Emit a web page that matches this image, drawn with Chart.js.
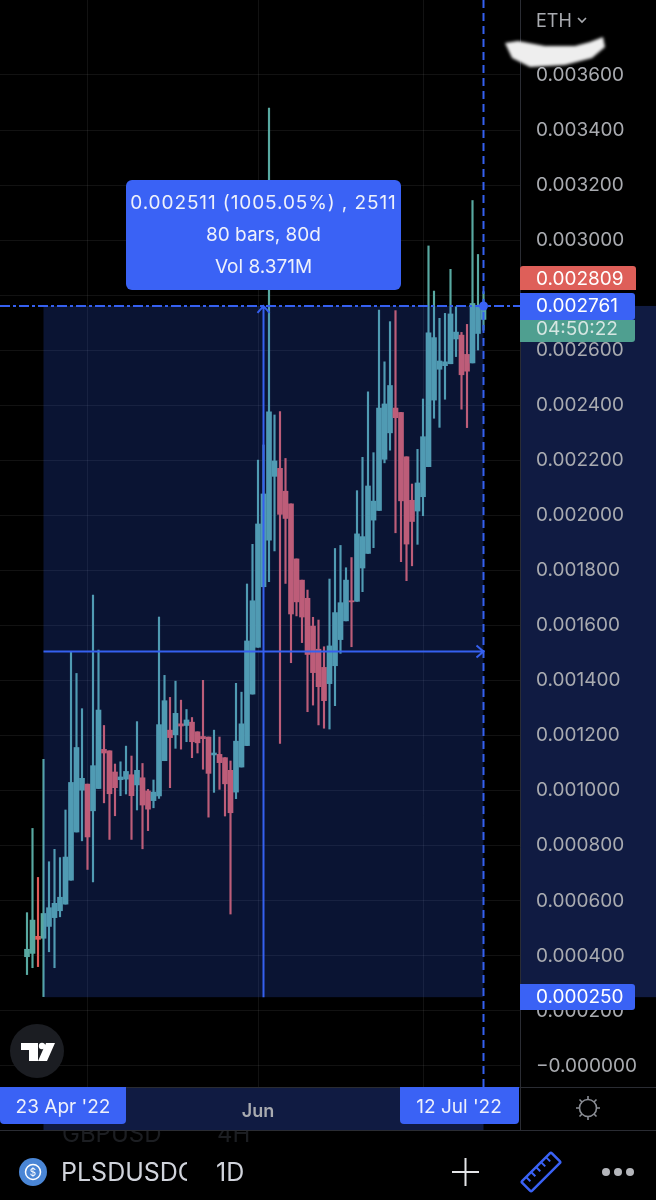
<!DOCTYPE html>
<html>
<head>
<meta charset="utf-8">
<script src="https://cdn.jsdelivr.net/npm/chart.js@4/dist/chart.umd.min.js"></script>
<style>
  html, body { margin: 0; background: #000; }
  #wrap { position: relative; width: 656px; height: 1200px; overflow: hidden; font-family: Inter, sans-serif; }
  canvas { position: absolute; left: 0; top: 0; }
  .bar { position: absolute; white-space: nowrap; }
  #ghost { left: 0; top: 1131px; width: 520px; height: 20px; overflow: hidden; color: #1c1e22; font-size: 24px; }
  #symbol { left: 61px; top: 1156px; width: 126px; overflow: hidden; color: #d1d4dc; font-size: 25px; line-height: 32px; }
  #interval { left: 216px; top: 1156px; color: #d1d4dc; font-size: 25px; line-height: 32px; }
  svg { position: absolute; left: 0; top: 0; }
</style>
</head>
<body>
<div id="wrap">
  <canvas id="myChart" width="656" height="1200"></canvas>
  <div class="bar" id="ghost"><span style="position:absolute;left:62px;top:-12px">GBPUSD</span><span style="position:absolute;left:217px;top:-12px">4H</span></div>
  <div class="bar" id="symbol">PLSDUSDC</div>
  <div class="bar" id="interval">1D</div>
  <svg width="656" height="1200">
    <!-- TradingView badge -->
    <circle cx="37" cy="1051" r="27" fill="#1b1d22"/>
    <path d="M21 1043H38V1061H29V1050H21Z M46 1043H55L47 1061H38Z" fill="#fff"/>
    <circle cx="42" cy="1046" r="3.2" fill="#fff"/>
    <!-- settings sun -->
    <g fill="none" stroke="#8a8d94" stroke-width="1.6">
      <circle cx="588" cy="1108" r="8.5"/>
      <path d="M588 1096v3.5M588 1116.5v3.5M576 1108h3.5M596.500 1108h3.500M579.500 1099.500l2.500 2.500M594 1114l2.500 2.500M596.500 1099.500l-2.500 2.500M582 1114l-2.500 2.500"/>
    </g>
    <!-- coin -->
    <circle cx="33" cy="1172" r="14" fill="#4a86d6"/>
    <circle cx="33" cy="1172" r="7.500" fill="none" stroke="#fff" stroke-width="1.5"/>
    <text x="33" y="1176" font-size="10" fill="#fff" text-anchor="middle" font-family="Inter">$</text>
    <!-- plus -->
    <path d="M452 1172h27M465.500 1158v28" stroke="#e4e5e8" stroke-width="2"/>
    <!-- ruler -->
    <g transform="rotate(-45 541 1172)" fill="none" stroke="#3a62f5" stroke-width="2.500">
      <rect x="520" y="1165" width="42" height="14" rx="1.500"/>
      <path d="M527 1165v6M534 1165v6M541 1165v6M548 1165v6M555 1165v6" stroke-width="2"/>
    </g>
    <!-- more -->
    <g fill="#b4b6bb"><circle cx="606" cy="1172" r="4"/><circle cx="618" cy="1172" r="4"/><circle cx="630" cy="1172" r="4"/></g>
  </svg>
</div>
<script>
// daily candles, 20 Apr - 12 Jul 2022
const dates = ['20 Apr','21 Apr','22 Apr','23 Apr','24 Apr','25 Apr','26 Apr','27 Apr','28 Apr','29 Apr','30 Apr',
  '1 May','2 May','3 May','4 May','5 May','6 May','7 May','8 May','9 May','10 May','11 May','12 May','13 May','14 May','15 May','16 May','17 May','18 May','19 May','20 May','21 May','22 May','23 May','24 May','25 May','26 May','27 May','28 May','29 May','30 May','31 May',
  '1 Jun','2 Jun','3 Jun','4 Jun','5 Jun','6 Jun','7 Jun','8 Jun','9 Jun','10 Jun','11 Jun','12 Jun','13 Jun','14 Jun','15 Jun','16 Jun','17 Jun','18 Jun','19 Jun','20 Jun','21 Jun','22 Jun','23 Jun','24 Jun','25 Jun','26 Jun','27 Jun','28 Jun','29 Jun','30 Jun',
  '1 Jul','2 Jul','3 Jul','4 Jul','5 Jul','6 Jul','7 Jul','8 Jul','9 Jul','10 Jul','11 Jul','12 Jul'];

const opens = [0.000397,0.000409,0.000471,0.000464,0.000507,0.000539,0.000564,0.000588,0.000675,0.000850,0.001002,
  0.001024,0.000927,0.001008,0.001150,0.001145,0.001068,0.001040,0.001042,0.001058,0.001021,0.001047,0.000999,0.000964,0.000981,0.001109,0.001220,0.001203,0.001243,0.001237,0.001249,0.001214,0.001197,0.001195,0.001130,0.001132,0.001120,0.001074,0.000995,0.001086,0.001164,0.001351,
  0.001521,0.001741,0.001910,0.002142,0.002171,0.002088,0.002042,0.001842,0.001765,0.001699,0.001598,0.001514,0.001448,0.001389,0.001454,0.001549,0.001617,0.001690,0.001688,0.001809,0.001862,0.001983,0.002018,0.002204,0.002300,0.002390,0.002374,0.002213,0.002055,0.002016,
  0.002068,0.002177,0.002419,0.002531,0.002544,0.002551,0.002641,0.002655,0.002585,0.002554,0.002661,0.002712];
const highs = [0.000557,0.000863,0.000685,0.001114,0.000742,0.000787,0.000757,0.000930,0.001505,0.001426,0.001298,
  0.001024,0.001711,0.001511,0.001237,0.001145,0.001097,0.001105,0.001162,0.001126,0.001251,0.001099,0.001005,0.001039,0.001631,0.001419,0.001339,0.001398,0.001329,0.001295,0.001266,0.001214,0.001401,0.001195,0.001220,0.001195,0.001120,0.001108,0.001390,0.001358,0.001751,0.001895,
  0.002201,0.002256,0.003480,0.002365,0.002377,0.002207,0.002042,0.001842,0.001765,0.001729,0.001630,0.001620,0.001523,0.001769,0.001880,0.001891,0.001810,0.001847,0.002090,0.002211,0.002449,0.002228,0.002746,0.002558,0.002704,0.002744,0.002374,0.002213,0.002114,0.002240,
  0.002423,0.002979,0.002815,0.002716,0.002734,0.002894,0.002758,0.002665,0.002694,0.003144,0.002948,0.002813];
const lows = [0.000332,0.000357,0.000361,0.000252,0.000415,0.000357,0.000542,0.000588,0.000675,0.000850,0.000818,
  0.000714,0.000669,0.001008,0.000956,0.000823,0.000909,0.000982,0.000988,0.000823,0.000930,0.000789,0.000855,0.000938,0.000972,0.001109,0.001011,0.001154,0.001151,0.001178,0.001120,0.001137,0.001078,0.000904,0.000994,0.001005,0.000908,0.000552,0.000971,0.001086,0.001164,0.001351,
  0.001521,0.001741,0.001759,0.001871,0.001172,0.001753,0.001465,0.001635,0.001538,0.001287,0.001311,0.001239,0.001227,0.001224,0.001309,0.001499,0.001617,0.001523,0.001688,0.001723,0.001862,0.001883,0.002018,0.002191,0.002237,0.001937,0.001832,0.001763,0.001817,0.001895,
  0.001999,0.002177,0.002353,0.002320,0.002422,0.002551,0.002577,0.002386,0.002319,0.002554,0.002601,0.002673];
const closes = [0.000424,0.000530,0.000460,0.000554,0.000575,0.000591,0.000613,0.000759,0.001030,0.001157,0.001045,
  0.000832,0.001091,0.001293,0.001137,0.000989,0.001011,0.001050,0.001070,0.000982,0.001074,0.000948,0.000933,0.000995,0.001240,0.001327,0.001193,0.001281,0.001235,0.001257,0.001178,0.001174,0.001189,0.001063,0.001137,0.001102,0.001025,0.000920,0.001180,0.001243,0.001544,0.001690,
  0.001969,0.002078,0.002376,0.002198,0.002004,0.001989,0.001642,0.001686,0.001631,0.001495,0.001429,0.001378,0.001327,0.001526,0.001647,0.001683,0.001765,0.001686,0.001933,0.001923,0.002107,0.002052,0.002390,0.002405,0.002472,0.002355,0.002053,0.001896,0.001978,0.002118,
  0.002286,0.002663,0.002646,0.002561,0.002558,0.002732,0.002666,0.002511,0.002524,0.002770,0.002761,0.002761];

const priceTicks = [0.0036,0.0034,0.0032,0.003,0.0028,0.0026,0.0024,0.0022,0.002,0.0018,0.0016,0.0014,0.0012,0.001,0.0008,0.0006,0.0004,0.0002,0];
const priceLabels = ['0.003600','0.003400','0.003200','0.003000','','0.002600','0.002400','0.002200','0.002000','0.001800','0.001600','0.001400','0.001200','0.001000','0.000800','0.000600','0.000400','0.000200','\u22120.000000'];
const monthDates = ['1 May','1 Jun','1 Jul'];
const monthLabels = ['','Jun',''];

// measure tool
const rangeStart = '23 Apr', rangeEnd = '12 Jul';
const rangeLow = 0.00025, rangeHigh = 0.002761;
const rangeInfo = ['0.002511 (1005.05%) , 2511', '80 bars, 80d', 'Vol 8.371M'];
const dayTag = "23 Apr '22", endTag = "12 Jul '22";
const highTag = '0.002809', lastTag = '0.002761', lowTag = '0.000250', timer = '04:50:22';

const UP = '#58a9a1', DOWN = '#e05c58', BLUE = '#3a62f5', LINE = '#3560f0';
const FONT = 'Inter, sans-serif';

const barColors = opens.map((o, i) => closes[i] >= o ? UP : DOWN);
const wickData = dates.map((d, i) => ({ x: i, y: [lows[i], highs[i]] }));
const bodyData = dates.map((d, i) => ({ x: i, y: [opens[i], closes[i]] }));

function box(ctx, x, y, w, h, r, color) {
  ctx.fillStyle = color;
  ctx.beginPath();
  ctx.roundRect(x, y, w, h, r);
  ctx.fill();
}

function label(ctx, text, x, y, size, color, align) {
  ctx.font = size + 'px ' + FONT;
  ctx.fillStyle = color;
  ctx.textAlign = align || 'left';
  ctx.textBaseline = 'middle';
  ctx.fillText(text, x, y);
}

const measureTool = {
  id: 'measureTool',
  beforeDraw(chart) {
    const { ctx, scales: { x, y } } = chart;
    const x0 = x.getPixelForValue(dates.indexOf(rangeStart));
    const x1 = x.getPixelForValue(dates.indexOf(rangeEnd));
    ctx.save();
    // highlight on both axes
    ctx.fillStyle = '#101b42';
    ctx.fillRect(520, y.getPixelForValue(rangeHigh), 136, y.getPixelForValue(rangeLow) - y.getPixelForValue(rangeHigh));
    ctx.fillRect(x0, 1087, x1 - x0, 43);
    ctx.restore();
  },
  afterDatasetsDraw(chart) {
    const { ctx, scales: { x, y } } = chart;
    const x0 = x.getPixelForValue(dates.indexOf(rangeStart));
    const x1 = x.getPixelForValue(dates.indexOf(rangeEnd));
    const yTop = y.getPixelForValue(rangeHigh), yLow = y.getPixelForValue(rangeLow);
    const midX = (x0 + x1) / 2, midY = (yTop + yLow) / 2;
    ctx.save();
    ctx.fillStyle = 'rgba(50,100,255,0.2)';
    ctx.fillRect(x0, yTop, x1 - x0, yLow - yTop);
    ctx.strokeStyle = LINE;
    ctx.lineWidth = 2;
    ctx.beginPath();
    ctx.moveTo(x0, midY); ctx.lineTo(x1, midY);
    ctx.moveTo(x1 - 7, midY - 6); ctx.lineTo(x1, midY); ctx.lineTo(x1 - 7, midY + 6);
    ctx.moveTo(midX, yLow); ctx.lineTo(midX, yTop);
    ctx.moveTo(midX - 6, yTop + 7); ctx.lineTo(midX, yTop); ctx.lineTo(midX + 6, yTop + 7);
    ctx.stroke();
    ctx.restore();
  },
  afterDraw(chart) {
    const { ctx, scales: { x, y } } = chart;
    const x1 = x.getPixelForValue(dates.indexOf(rangeEnd));
    const yTop = y.getPixelForValue(rangeHigh);
    ctx.save();

    // crosshair
    ctx.strokeStyle = LINE;
    ctx.lineWidth = 2;
    ctx.setLineDash([10, 3, 3, 3]);
    ctx.beginPath(); ctx.moveTo(0, yTop); ctx.lineTo(520, yTop); ctx.stroke();
    ctx.setLineDash([8, 5]);
    ctx.beginPath(); ctx.moveTo(x1, 0); ctx.lineTo(x1, 1087); ctx.stroke();
    ctx.setLineDash([]);
    ctx.fillStyle = BLUE;
    ctx.beginPath(); ctx.arc(x1, yTop, 4.5, 0, Math.PI * 2); ctx.fill();

    // axis borders
    ctx.strokeStyle = '#2a2c33';
    ctx.lineWidth = 1;
    ctx.beginPath();
    ctx.moveTo(520.5, 0); ctx.lineTo(520.5, 1130);
    ctx.moveTo(0, 1087.5); ctx.lineTo(656, 1087.5);
    ctx.moveTo(0, 1130.5); ctx.lineTo(656, 1130.5);
    ctx.stroke();

    // result box
    box(ctx, 126, 180, 275, 110, 6, BLUE);
    ctx.letterSpacing = '0.9px';
    label(ctx, rangeInfo[0], 263.5, 203, 19, '#eef1fb', 'center');
    ctx.letterSpacing = '0px';
    label(ctx, rangeInfo[1], 263.5, 235, 19, '#eef1fb', 'center');
    label(ctx, rangeInfo[2], 263.5, 267, 19, '#eef1fb', 'center');

    // price tags
    box(ctx, 520, 320, 115, 22, [0, 0, 3, 0], '#4f9f90');
    label(ctx, timer, 536, 329, 19, '#d5e6e2');
    box(ctx, 520, 266, 116, 24, [3, 3, 0, 0], '#de5f59');
    label(ctx, highTag, 536, 279, 19, '#fff');
    box(ctx, 520, 293, 115, 27, [0, 3, 3, 0], BLUE);
    label(ctx, lastTag, 536, 306, 19, '#fff');
    box(ctx, 520, 984, 115, 26, [0, 3, 3, 0], BLUE);
    label(ctx, lowTag, 536, 997, 19, '#fff');

    // date tags
    box(ctx, 0, 1087, 126, 37, [0, 0, 4, 4], BLUE);
    label(ctx, dayTag, 63, 1107, 19, '#eef1fb', 'center');
    box(ctx, 400, 1087, 119, 37, [0, 0, 4, 4], BLUE);
    label(ctx, endTag, 459, 1107, 19, '#eef1fb', 'center');

    // currency switch and the scribble over it
    label(ctx, 'ETH', 536, 22, 18, '#a9abb0');
    ctx.strokeStyle = '#a9abb0';
    ctx.lineWidth = 1.6;
    ctx.beginPath(); ctx.moveTo(578, 18); ctx.lineTo(582, 22); ctx.lineTo(586, 18); ctx.stroke();
    ctx.filter = 'blur(1.5px)';
    ctx.fillStyle = '#eeeeee';
    ctx.beginPath();
    [[505,43],[518,41],[545,46],[575,46],[590,42],[603,37],[605,47],[592,58],[565,65],[530,67],[512,58]]
      .forEach((p, i) => i ? ctx.lineTo(p[0], p[1]) : ctx.moveTo(p[0], p[1]));
    ctx.closePath();
    ctx.fill();
    ctx.restore();
  }
};

const config = {
  type: 'bar',
  data: {
    datasets: [
      { data: wickData, backgroundColor: barColors, barThickness: 1.5, borderWidth: 0, borderSkipped: false },
      { data: bodyData, backgroundColor: barColors, barThickness: 5, borderWidth: 0, borderSkipped: false }
    ]
  },
  options: {
    responsive: false,
    animation: false,
    layout: { padding: 0 },
    datasets: { bar: { grouped: false } },
    plugins: { legend: { display: false }, tooltip: { enabled: false } },
    scales: {
      x: {
        type: 'linear',
        offset: false,
        min: -4.909,
        max: 89.636,
        afterFit(scale) { scale.height = 113; scale.paddingLeft = 0; scale.paddingRight = 0; },
        afterBuildTicks(scale) { scale.ticks = monthDates.map(d => ({ value: dates.indexOf(d) })); },
        grid: { offset: false, color: 'rgba(255,255,255,0.07)', drawTicks: false },
        border: { display: false },
        ticks: {
          autoSkip: false,
          maxRotation: 0,
          padding: 14,
          color: '#a9abb0',
          font: { family: FONT, size: 18, weight: '600' },
          callback: (v, i) => monthLabels[i]
        }
      },
      y: {
        position: 'right',
        min: -0.0000763,
        max: 0.0038724,
        afterFit(scale) { scale.width = 136; scale.paddingTop = 0; scale.paddingBottom = 0; },
        afterBuildTicks(scale) { scale.ticks = priceTicks.map(v => ({ value: v })); },
        grid: { color: 'rgba(255,255,255,0.07)', drawTicks: false },
        border: { display: false },
        ticks: {
          autoSkip: false,
          padding: 16,
          color: '#a9abb0',
          font: { family: FONT, size: 19 },
          callback: (v, i) => priceLabels[i]
        }
      }
    }
  },
  plugins: [measureTool]
};

const myChart = new Chart(document.getElementById('myChart'), config);
</script>
</body>
</html>
